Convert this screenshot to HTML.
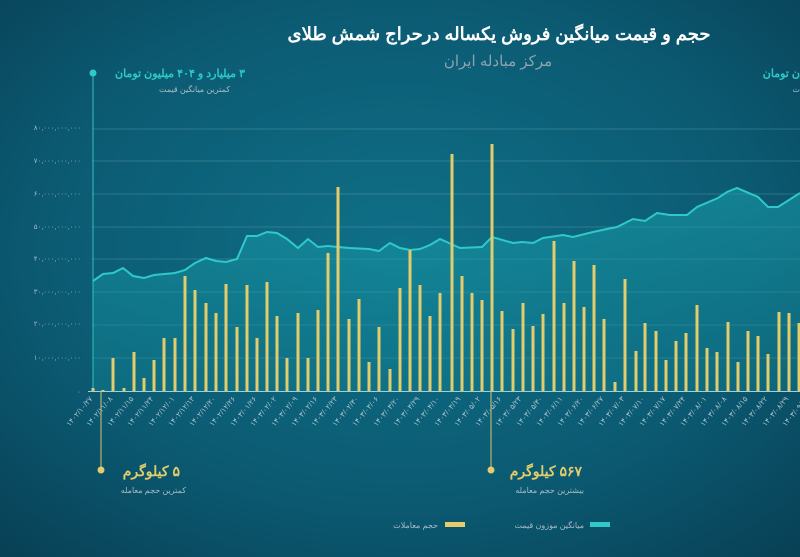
<!DOCTYPE html>
<html><head><meta charset="utf-8"><style>
html,body{margin:0;padding:0;width:800px;height:557px;overflow:hidden;background:#0a4c61}
svg{display:block}
text{font-family:"Liberation Sans","Noto Sans CJK SC",sans-serif}
</style></head><body>
<svg width="800" height="557" viewBox="0 0 800 557" xmlns="http://www.w3.org/2000/svg">
<defs>
<radialGradient id="bg" cx="0.5" cy="0.45" r="0.75">
<stop offset="0" stop-color="#0f7087"/><stop offset="0.6" stop-color="#0b5a72"/><stop offset="1" stop-color="#083f54"/>
</radialGradient>
<linearGradient id="ar" x1="0" y1="0" x2="0" y2="1">
<stop offset="0" stop-color="#1aa0ac" stop-opacity="0.55"/><stop offset="1" stop-color="#138a9a" stop-opacity="0.35"/>
</linearGradient>
</defs>
<rect width="800" height="557" fill="url(#bg)"/>
<text x="499" y="40" text-anchor="middle" font-size="18" font-weight="bold" fill="#ffffff" direction="rtl">حجم و قیمت میانگین فروش یکساله درحراج شمش طلای</text>
<text x="498" y="66" text-anchor="middle" font-size="15" fill="#8fa3ad" direction="rtl">مرکز مبادله ایران</text>
<g stroke="#6fa9b8" stroke-opacity="0.35" stroke-width="1">
<line x1="92" y1="129" x2="800" y2="129"/><line x1="92" y1="161" x2="800" y2="161"/><line x1="92" y1="194" x2="800" y2="194"/><line x1="92" y1="227" x2="800" y2="227"/><line x1="92" y1="259" x2="800" y2="259"/><line x1="92" y1="292" x2="800" y2="292"/><line x1="92" y1="325" x2="800" y2="325"/><line x1="92" y1="358" x2="800" y2="358"/>
</g>
<g font-size="7" fill="#9fb8c4" text-anchor="end">
<text x="81" y="130">۸۰,۰۰۰,۰۰۰,۰۰۰</text><text x="81" y="163">۷۰,۰۰۰,۰۰۰,۰۰۰</text><text x="81" y="196">۶۰,۰۰۰,۰۰۰,۰۰۰</text><text x="81" y="229">۵۰,۰۰۰,۰۰۰,۰۰۰</text><text x="81" y="261">۴۰,۰۰۰,۰۰۰,۰۰۰</text><text x="81" y="294">۳۰,۰۰۰,۰۰۰,۰۰۰</text><text x="81" y="326">۲۰,۰۰۰,۰۰۰,۰۰۰</text><text x="81" y="360">۱۰,۰۰۰,۰۰۰,۰۰۰</text><text x="81" y="394">۰</text>
</g>
<path d="M93,281 L103,274 113,273 123,268 133,276 144,278 154,275 175,273 185,270 195,263 206,258 216,261 226,262 237,259 247,236 257,236 267,232 277,233 287,239 298,248 308,239 318,247 328,246 338,247 349,248 369,249 379,251 390,243 400,248 410,250 420,249 430,245 440,239 460,248 482,247 492,237 513,243 522,242 533,243 543,238 563,235 573,237 593,232 607,229 617,227 633,219 645,221 657,213 670,215 687,215 697,207 718,198 727,192 737,188 758,197 768,207 778,207 800,193 L800,391 L93,391 Z" fill="url(#ar)"/>
<path d="M93,281 L103,274 113,273 123,268 133,276 144,278 154,275 175,273 185,270 195,263 206,258 216,261 226,262 237,259 247,236 257,236 267,232 277,233 287,239 298,248 308,239 318,247 328,246 338,247 349,248 369,249 379,251 390,243 400,248 410,250 420,249 430,245 440,239 460,248 482,247 492,237 513,243 522,242 533,243 543,238 563,235 573,237 593,232 607,229 617,227 633,219 645,221 657,213 670,215 687,215 697,207 718,198 727,192 737,188 758,197 768,207 778,207 800,193" fill="none" stroke="#2fc9c9" stroke-width="2"/>
<line x1="93" y1="72" x2="93" y2="391" stroke="#2fbfc4" stroke-width="1"/>
<circle cx="93" cy="73" r="3.5" fill="#2fc9c9"/>
<text x="245" y="77" text-anchor="start" direction="rtl" font-size="11" font-weight="bold" fill="#2fc9c9">۳ میلیارد و ۴۰۴ میلیون تومان</text>
<text x="230" y="92" text-anchor="start" direction="rtl" font-size="8" fill="#a9bcc5">کمترین میانگین قیمت</text>
<text x="800" y="77" text-anchor="start" direction="rtl" font-size="11" font-weight="bold" fill="#2fc9c9">ن تومان</text>
<text x="800" y="92" text-anchor="start" direction="rtl" font-size="8" fill="#a9bcc5">ت</text>
<g fill="#e2cc6c">
<rect x="91.5" y="388" width="3" height="3"/><rect x="101.5" y="390" width="3" height="1"/><rect x="111.5" y="358" width="3" height="33"/><rect x="122.5" y="388" width="3" height="3"/><rect x="132.5" y="352" width="3" height="39"/><rect x="142.5" y="378" width="3" height="13"/><rect x="152.5" y="360" width="3" height="31"/><rect x="162.5" y="338" width="3" height="53"/><rect x="173.5" y="338" width="3" height="53"/><rect x="183.5" y="276" width="3" height="115"/><rect x="193.5" y="290" width="3" height="101"/><rect x="204.5" y="303" width="3" height="88"/><rect x="214.5" y="313" width="3" height="78"/><rect x="224.5" y="284" width="3" height="107"/><rect x="235.5" y="327" width="3" height="64"/><rect x="245.5" y="285" width="3" height="106"/><rect x="255.5" y="338" width="3" height="53"/><rect x="265.5" y="282" width="3" height="109"/><rect x="275.5" y="316" width="3" height="75"/><rect x="285.5" y="358" width="3" height="33"/><rect x="296.5" y="313" width="3" height="78"/><rect x="306.5" y="358" width="3" height="33"/><rect x="316.5" y="310" width="3" height="81"/><rect x="326.5" y="253" width="3" height="138"/><rect x="336.5" y="187" width="3" height="204"/><rect x="347.5" y="319" width="3" height="72"/><rect x="357.5" y="299" width="3" height="92"/><rect x="367.5" y="362" width="3" height="29"/><rect x="377.5" y="327" width="3" height="64"/><rect x="388.5" y="369" width="3" height="22"/><rect x="398.5" y="288" width="3" height="103"/><rect x="408.5" y="250" width="3" height="141"/><rect x="418.5" y="285" width="3" height="106"/><rect x="428.5" y="316" width="3" height="75"/><rect x="438.5" y="293" width="3" height="98"/><rect x="450.5" y="154" width="3" height="237"/><rect x="460.5" y="276" width="3" height="115"/><rect x="470.5" y="293" width="3" height="98"/><rect x="480.5" y="300" width="3" height="91"/><rect x="490.5" y="144" width="3" height="247"/><rect x="500.5" y="311" width="3" height="80"/><rect x="511.5" y="329" width="3" height="62"/><rect x="521.5" y="303" width="3" height="88"/><rect x="531.5" y="326" width="3" height="65"/><rect x="541.5" y="314" width="3" height="77"/><rect x="552.5" y="241" width="3" height="150"/><rect x="562.5" y="303" width="3" height="88"/><rect x="572.5" y="261" width="3" height="130"/><rect x="582.5" y="307" width="3" height="84"/><rect x="592.5" y="265" width="3" height="126"/><rect x="602.5" y="319" width="3" height="72"/><rect x="613.5" y="382" width="3" height="9"/><rect x="623.5" y="279" width="3" height="112"/><rect x="634.5" y="351" width="3" height="40"/><rect x="643.5" y="323" width="3" height="68"/><rect x="654.5" y="331" width="3" height="60"/><rect x="664.5" y="360" width="3" height="31"/><rect x="674.5" y="341" width="3" height="50"/><rect x="684.5" y="333" width="3" height="58"/><rect x="695.5" y="305" width="3" height="86"/><rect x="705.5" y="348" width="3" height="43"/><rect x="715.5" y="352" width="3" height="39"/><rect x="726.5" y="322" width="3" height="69"/><rect x="736.5" y="362" width="3" height="29"/><rect x="746.5" y="331" width="3" height="60"/><rect x="756.5" y="336" width="3" height="55"/><rect x="766.5" y="354" width="3" height="37"/><rect x="777.5" y="312" width="3" height="79"/><rect x="787.5" y="313" width="3" height="78"/><rect x="797.5" y="323" width="3" height="68"/>
</g>
<line x1="88" y1="391.5" x2="800" y2="391.5" stroke="#9fd0da" stroke-width="1"/>
<line x1="101" y1="392" x2="101" y2="469" stroke="#d9c46a" stroke-width="1"/>
<circle cx="101" cy="470" r="3.5" fill="#e2cc6c"/>
<line x1="491" y1="392" x2="491" y2="469" stroke="#d9c46a" stroke-width="1"/>
<circle cx="491" cy="470" r="3.5" fill="#e2cc6c"/>
<text x="180" y="476" text-anchor="start" direction="rtl" font-size="14" font-weight="bold" fill="#e2cc6c">۵ کیلوگرم</text>
<text x="186" y="493" text-anchor="start" direction="rtl" font-size="8" fill="#a9bcc5">کمترین حجم معامله</text>
<text x="582" y="476" text-anchor="start" direction="rtl" font-size="14" font-weight="bold" fill="#e2cc6c">۵۶۷ کیلوگرم</text>
<text x="584" y="493" text-anchor="start" direction="rtl" font-size="8" fill="#a9bcc5">بیشترین حجم معامله</text>
<rect x="445" y="522" width="20" height="5" fill="#e2cc6c"/>
<text x="438" y="528" text-anchor="start" direction="rtl" font-size="8" fill="#a9bcc5">حجم معاملات</text>
<rect x="590" y="522" width="20" height="5" fill="#2fc9c9"/>
<text x="584" y="528" text-anchor="start" direction="rtl" font-size="8" fill="#a9bcc5">میانگین موزون قیمت</text>
<g font-size="7.5" fill="#a9c2cc" text-anchor="end">
<text transform="translate(93,399) rotate(-50)">۱۴۰۲/۱۰/۲۷</text>
<text transform="translate(113,399) rotate(-50)">۱۴۰۲/۱۱/۰۸</text>
<text transform="translate(134,399) rotate(-50)">۱۴۰۲/۱۱/۱۵</text>
<text transform="translate(154,399) rotate(-50)">۱۴۰۲/۱۱/۲۴</text>
<text transform="translate(175,399) rotate(-50)">۱۴۰۲/۱۲/۰۱</text>
<text transform="translate(195,399) rotate(-50)">۱۴۰۲/۱۲/۱۳</text>
<text transform="translate(216,399) rotate(-50)">۱۴۰۲/۱۲/۲۰</text>
<text transform="translate(236,399) rotate(-50)">۱۴۰۲/۱۲/۲۶</text>
<text transform="translate(257,399) rotate(-50)">۱۴۰۳/۰۱/۲۶</text>
<text transform="translate(277,399) rotate(-50)">۱۴۰۳/۰۲/۰۲</text>
<text transform="translate(298,399) rotate(-50)">۱۴۰۳/۰۲/۰۹</text>
<text transform="translate(318,399) rotate(-50)">۱۴۰۳/۰۲/۱۶</text>
<text transform="translate(338,399) rotate(-50)">۱۴۰۳/۰۲/۲۳</text>
<text transform="translate(359,399) rotate(-50)">۱۴۰۳/۰۲/۳۰</text>
<text transform="translate(379,399) rotate(-50)">۱۴۰۳/۰۳/۰۶</text>
<text transform="translate(400,399) rotate(-50)">۱۴۰۳/۰۳/۲۰</text>
<text transform="translate(420,399) rotate(-50)">۱۴۰۳/۰۳/۲۹</text>
<text transform="translate(440,399) rotate(-50)">۱۴۰۳/۰۴/۱۰</text>
<text transform="translate(461,399) rotate(-50)">۱۴۰۳/۰۴/۱۹</text>
<text transform="translate(481,399) rotate(-50)">۱۴۰۳/۰۵/۰۲</text>
<text transform="translate(502,399) rotate(-50)">۱۴۰۳/۰۵/۱۶</text>
<text transform="translate(522,399) rotate(-50)">۱۴۰۳/۰۵/۲۳</text>
<text transform="translate(543,399) rotate(-50)">۱۴۰۳/۰۵/۳۰</text>
<text transform="translate(563,399) rotate(-50)">۱۴۰۳/۰۶/۱۱</text>
<text transform="translate(584,399) rotate(-50)">۱۴۰۳/۰۶/۲۰</text>
<text transform="translate(604,399) rotate(-50)">۱۴۰۳/۰۶/۲۷</text>
<text transform="translate(625,399) rotate(-50)">۱۴۰۳/۰۷/۰۳</text>
<text transform="translate(645,399) rotate(-50)">۱۴۰۳/۰۷/۱۰</text>
<text transform="translate(666,399) rotate(-50)">۱۴۰۳/۰۷/۱۷</text>
<text transform="translate(686,399) rotate(-50)">۱۴۰۳/۰۷/۲۴</text>
<text transform="translate(707,399) rotate(-50)">۱۴۰۳/۰۸/۰۱</text>
<text transform="translate(727,399) rotate(-50)">۱۴۰۳/۰۸/۰۸</text>
<text transform="translate(748,399) rotate(-50)">۱۴۰۳/۰۸/۱۵</text>
<text transform="translate(768,399) rotate(-50)">۱۴۰۳/۰۸/۲۲</text>
<text transform="translate(789,399) rotate(-50)">۱۴۰۳/۰۸/۲۹</text>
<text transform="translate(809,399) rotate(-50)">۱۴۰۳/۰۹/۰۶</text>
</g>
</svg>
</body></html>
